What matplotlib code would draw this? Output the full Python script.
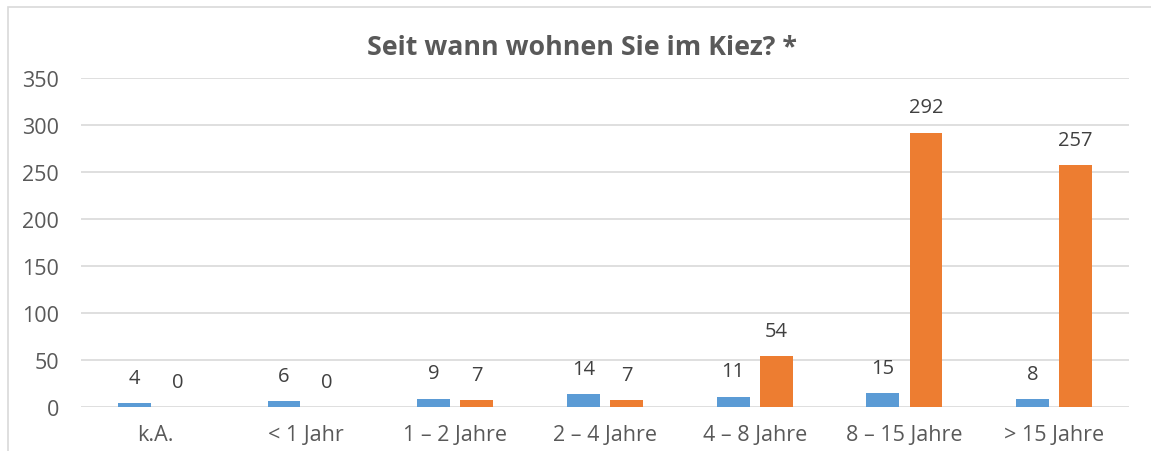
import matplotlib
matplotlib.use("Agg")
from matplotlib import pyplot as plt
from matplotlib.patches import Rectangle
import numpy as np

plt.rcParams['font.family'] = ['Open Sans', 'DejaVu Sans']

categories = ["k.A.", "< 1 Jahr", "1 – 2 Jahre", "2 – 4 Jahre", "4 – 8 Jahre", "8 – 15 Jahre", "> 15 Jahre"]
blue_values = [4, 6, 9, 14, 11, 15, 8]
orange_values = [0, 0, 7, 7, 54, 292, 257]
y_ticks = [0, 50, 100, 150, 200, 250, 300, 350]

W, H = 1151, 452
fig = plt.figure(figsize=(W / 100, H / 100), dpi=100)
ax = fig.add_axes([81 / W, 1 - 408 / H, (1129 - 81) / W, (408 - 79) / H])

# chart frame (only left and top visible)
fig.patches.append(Rectangle((8 / W, -0.1), 1.2, 1 - 8 / H + 0.1, transform=fig.transFigure,
                             fill=False, edgecolor="#D9D9D9", linewidth=1.2))

x = np.arange(len(categories))
w = 0.22
off = 0.144
b1 = ax.bar(x - off, blue_values, w, color="#5B9BD5", zorder=3)
b2 = ax.bar(x + off, orange_values, w, color="#ED7D31", zorder=3)

for bars, vals in ((b1, blue_values), (b2, orange_values)):
    for r, v in zip(bars, vals):
        ax.annotate(str(v), (r.get_x() + r.get_width() / 2, v), xytext=(0, 11),
                    textcoords="offset points", ha="center", va="bottom",
                    fontsize=14.5, color="#404040")

ax.set_xlim(-0.5, len(categories) - 0.5)
ax.set_ylim(0, 350)
ax.set_yticks(y_ticks)
ax.set_xticks(x)
ax.set_xticklabels(categories)
ax.grid(axis="y", color="#D9D9D9", linewidth=1.2, zorder=0)
for s in ax.spines.values():
    s.set_visible(False)
ax.tick_params(axis="both", length=0, labelsize=15.5, labelcolor="#595959")
ax.tick_params(axis="y", pad=16)
ax.tick_params(axis="x", pad=12)

fig.text(582 / W, 1 - 48 / H, "Seit wann wohnen Sie im Kiez? *", ha="center", va="center",
         fontsize=19.3, fontweight="bold", color="#595959")

fig.savefig("out.png", dpi=100, facecolor="white")
